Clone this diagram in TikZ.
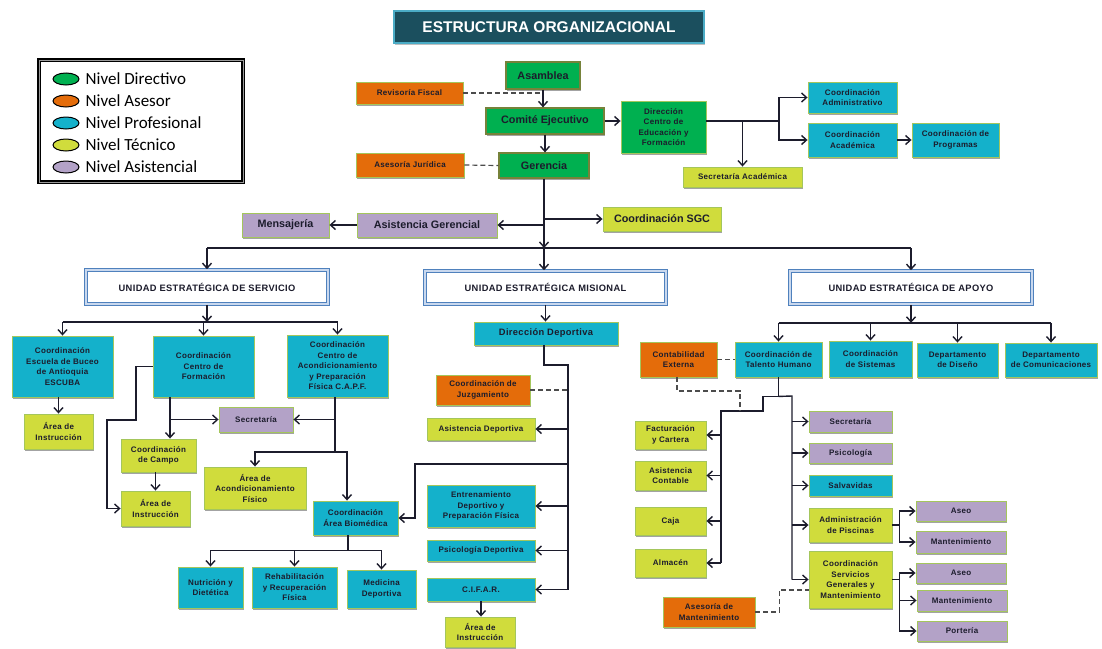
\documentclass[tikz,border=0pt]{standalone}
\usepackage{fontspec}
\setmainfont{Liberation Sans}
\newfontfamily\boxfont[LetterSpace=4]{Liberation Sans}
\newfontfamily\legfont{Carlito}
\usepackage{xcolor}
\usetikzlibrary{arrows.meta,shadows,positioning,shapes.geometric}

\definecolor{dirgreen}{HTML}{00B050}
\definecolor{aseorange}{HTML}{E46C0A}
\definecolor{procyan}{HTML}{14B1CB}
\definecolor{tecyellow}{HTML}{D0DC3C}
\definecolor{asipurple}{HTML}{B3A2C7}
\definecolor{olivebd}{HTML}{76823A}
\definecolor{lightbd}{HTML}{A4C65C}
\definecolor{titlefill}{HTML}{1B4F5E}
\definecolor{titlebd}{HTML}{4BACC6}
\definecolor{uniblue}{HTML}{4F81BD}
\definecolor{unipale}{HTML}{C9D8EE}
\definecolor{inkdark}{HTML}{1C1C2C}

\tikzset{
  box/.style={draw=lightbd, line width=0.9pt, inner sep=1pt, align=center, text=inkdark,
    font=\boxfont\fontsize{8}{10.5}\selectfont\bfseries,
    drop shadow={shadow xshift=0.7pt, shadow yshift=-1.8pt, fill=black!45, opacity=0.8}},
  sz/.style 2 args={minimum width=#1pt, minimum height=#2pt},
  dir/.style={box, fill=dirgreen, draw=olivebd, line width=1.3pt},
  ase/.style={box, fill=aseorange},
  pro/.style={box, fill=procyan},
  tec/.style={box, fill=tecyellow},
  asi/.style={box, fill=asipurple},
  big/.style={font=\fontsize{10.8}{13}\selectfont\bfseries},
  mid/.style={font=\boxfont\fontsize{9.3}{11}\selectfont\bfseries},
  unidad/.style={draw=uniblue, line width=1.6pt, double=unipale, double distance=1.4pt,
    fill=white, align=center, text=inkdark, mid},
  arr/.style={line width=1.4pt, draw=inkdark, -{Straight Barb[length=5pt,width=9pt]}},
  lnk/.style={line width=1.4pt, draw=inkdark},
  dsh/.style={line width=1.2pt, draw=black!70, dash pattern=on 5pt off 3pt},
}

\begin{document}
\begin{tikzpicture}[x=1pt, y=-1pt]
    % Page frame
    \fill[white] (0,0) rectangle (1102,648);
    \useasboundingbox (0,0) rectangle (1102,648);

    % Title
    \node[fill=titlefill, draw=titlebd, line width=1.5pt, text=white, sz={310}{32},
        font=\fontsize{15.5}{18}\selectfont\bfseries,
        drop shadow={shadow xshift=0.8pt, shadow yshift=-2pt, fill=black!50}] (title) at (549,27) {ESTRUCTURA ORGANIZACIONAL};

    % Legend
    \node[draw=black, line width=1.8pt, double=black!40, double distance=1pt, fill=white, sz={204}{122}] (legend) at (141,121) {};
    \foreach \col/\txt [count=\i] in {dirgreen/Nivel Directivo, aseorange/Nivel Asesor, procyan/Nivel Profesional, tecyellow/Nivel Técnico, asipurple/Nivel Asistencial} {
        \node[ellipse, draw, line width=1pt, fill=\col, sz={26}{12}, inner sep=0pt] (legdot\i) at (66,57+22*\i) {};
        \node[right=6pt of legdot\i, inner sep=0pt, font=\legfont\fontsize{17}{20}\selectfont] (legtxt\i) {\txt};
    }

    % Top levels
    \node[dir, big, sz={74}{27}] (asamblea) at (543,75.5) {Asamblea};
    \node[ase, sz={107}{22}] (revisoria) at (409.5,93) {Revisoría Fiscal};
    \node[dir, big, sz={118}{26}] (comite) at (545,121) {Comité Ejecutivo};
    \node[ase, sz={108}{24}] (juridica) at (410,165) {Asesoría Jurídica};
    \node[dir, big, sz={90}{25}] (gerencia) at (544,165.5) {Gerencia};
    \node[dir, draw=lightbd, line width=0.9pt, sz={85}{52}] (dircef) at (663.5,127) {Dirección\\Centro de\\Educación y\\Formación};
    \node[pro, sz={89}{31}] (cadmin) at (852.5,97.5) {Coordinación\\Administrativo};
    \node[pro, sz={89}{34}] (cacad) at (852.5,140) {Coordinación\\Académica};
    \node[pro, sz={87}{34}] (cprog) at (955.5,140) {Coordinación de\\Programas};
    \node[tec, sz={119}{20}] (secacad) at (742.5,177) {Secretaría Académica};
    \node[tec, big, sz={118}{24}] (sgc) at (662,219) {Coordinación SGC};
    \node[asi, big, sz={140}{24}] (asisger) at (427,225) {Asistencia Gerencial};
    \node[asi, big, sz={87}{24}] (mensaj) at (285.5,225) {Mensajería};

    % Strategic units
    \node[unidad, sz={242}{34}] (uesserv) at (207,287) {UNIDAD ESTRATÉGICA DE SERVICIO};
    \node[unidad, sz={241}{33}] (uesmis) at (545.5,287.5) {UNIDAD ESTRATÉGICA MISIONAL};
    \node[unidad, sz={242}{33}] (uesapoyo) at (911,287.5) {UNIDAD ESTRATÉGICA DE APOYO};

    % Top connectors
    \draw[arr] (asamblea.south) -- (asamblea.south |- comite.north);
    \draw[dsh] (revisoria.east) -- (revisoria.east -| asamblea.south);
    \draw[arr] (comite.south) -- (comite.south |- gerencia.north);
    \draw[dsh] (juridica.east) -- (gerencia.west);
    \draw[arr] (comite.east) -- (comite.east -| dircef.west);
    \coordinate (cefsplit) at (779,121);
    \draw[lnk] ([yshift=6pt]dircef.east) -- (cefsplit);
    \draw[arr] (cefsplit) |- (cadmin.west);
    \draw[arr] (cefsplit) |- (cacad.west);
    \draw[arr] (cefsplit -| secacad.north) -- (secacad.north);
    \draw[arr] (cacad.east) -- (cprog.west);
    \coordinate (topbus) at (544,248);
    \draw[arr] (gerencia.south) -- (topbus);
    \draw[arr] (topbus) -- (topbus |- uesmis.north);
    \draw[arr] (gerencia.south |- sgc.west) -- (sgc.west);
    \draw[arr] (gerencia.south |- asisger.east) -- (asisger.east);
    \draw[arr] (asisger.west) -- (mensaj.east);
    \draw[lnk] (topbus -| uesserv.north) -- (topbus -| uesapoyo.north);
    \draw[arr] (topbus -| uesserv.north) -- (uesserv.north);
    \draw[arr] (topbus -| uesapoyo.north) -- (uesapoyo.north);

    % Unidad de servicio
    \node[pro, sz={101}{61}] (escuba) at (62.5,366.5) {Coordinación\\Escuela de Buceo\\de Antioquia\\ESCUBA};
    \node[tec, sz={69}{35}] (ainst1) at (58.5,431.5) {Área de\\Instrucción};
    \node[pro, sz={101}{61}] (cform) at (203.5,366.5) {Coordinación\\Centro de\\Formación};
    \node[pro, sz={101}{62}] (capf) at (337.5,366) {Coordinación\\Centro de\\Acondicionamiento\\y Preparación\\Física C.A.P.F.};
    \node[asi, sz={74}{25}] (secserv) at (256,419.5) {Secretaría};
    \node[tec, sz={75}{33}] (campo) at (158.5,455.5) {Coordinación\\de Campo};
    \node[tec, sz={69}{35}] (ainst2) at (155.5,508.5) {Área de\\Instrucción};
    \node[tec, sz={102}{42}] (acond) at (255,488) {Área de\\Acondicionamiento\\Físico};
    \node[pro, sz={85}{34}] (biomed) at (355.5,518) {Coordinación\\Área Biomédica};
    \node[pro, sz={65}{41}] (nutri) at (210.5,587.5) {Nutrición y\\Dietética};
    \node[pro, sz={85}{41}] (rehab) at (294.5,587.5) {Rehabilitación\\y Recuperación\\Física};
    \node[pro, sz={69}{38}] (medic) at (381.5,589) {Medicina\\Deportiva};

    \coordinate (servbus) at (207,322);
    \draw[arr] (uesserv.south) -- (servbus);
    \draw[lnk] (servbus -| escuba.north) -- (servbus -| capf.north);
    \foreach \n in {escuba, cform, capf}
        \draw[arr] (servbus -| \n.north) -- (\n.north);
    \draw[arr] (ainst1.north |- escuba.south) -- (ainst1.north);
    \draw[arr] (cform.west) -| (136,420) -| (107,508.5) -- (ainst2.west);
    \coordinate (cfdown) at ([xshift=-33.5pt]cform.south);
    \draw[arr] (cfdown) -- (cfdown |- campo.north);
    \draw[arr] (cfdown |- secserv.west) -- (secserv.west);
    \draw[arr] (ainst2.north |- campo.south) -- (ainst2.north);
    \coordinate (capfdown) at ([xshift=-2.5pt]capf.south);
    \coordinate (capfbus) at (335,452);
    \draw[lnk] (capfdown) -- (capfbus);
    \draw[arr] (capfdown |- secserv.east) -- (secserv.east);
    \draw[arr] (capfbus) -| (acond.north);
    \draw[arr] (capfbus) -| ([xshift=-8.5pt]biomed.north);
    \draw[lnk] ([xshift=-7.5pt]biomed.south) -- ++(0,15) coordinate (biobus);
    \foreach \n in {nutri, rehab, medic}
        \draw[arr] (biobus) -| (\n.north);

    % Unidad misional
    \node[pro, mid, sz={144}{23}] (dirdep) at (546,333.5) {Dirección Deportiva};
    \node[ase, sz={94}{30}] (juzga) at (483,390) {Coordinación de\\Juzgamiento};
    \node[tec, sz={108}{22}] (asisdep) at (481,429) {Asistencia Deportiva};
    \node[pro, sz={108}{42}] (entren) at (481,506) {Entrenamiento\\Deportivo y\\Preparación Física};
    \node[pro, sz={108}{21}] (psidep) at (481,550.5) {Psicología Deportiva};
    \node[pro, sz={108}{23}] (cifar) at (481,589.5) {C.I.F.A.R.};
    \node[tec, sz={70}{30}] (ainst3) at (480,632) {Área de\\Instrucción};

    \draw[arr] (uesmis.south) -- (uesmis.south |- dirdep.north);
    \coordinate (misbus) at (568,365);
    \draw[lnk] ([xshift=-2pt]dirdep.south) |- (misbus) -- (misbus |- cifar.east);
    \foreach \n in {asisdep, entren, psidep, cifar}
        \draw[arr] (misbus |- \n.east) -- (\n.east);
    \draw[dsh] (juzga.east) -- (juzga.east -| misbus);
    \draw[arr] (568,464) -- (415,464) |- (biomed.east);
    \draw[arr] (cifar.south) -- (cifar.south |- ainst3.north);

    % Unidad de apoyo
    \node[ase, sz={77}{35}] (contab) at (678.5,359.5) {Contabilidad\\Externa};
    \node[pro, sz={87}{35}] (talento) at (778.5,359.5) {Coordinación de\\Talento Humano};
    \node[pro, sz={83}{36}] (sistemas) at (870.5,359) {Coordinación\\de Sistemas};
    \node[pro, sz={81}{34}] (diseno) at (957.5,360) {Departamento\\de Diseño};
    \node[pro, sz={92}{34}] (comunic) at (1051,360) {Departamento\\de Comunicaciones};
    \node[tec, sz={71}{28}] (factur) at (670.5,435) {Facturación\\y Cartera};
    \node[tec, sz={71}{29}] (asiscont) at (670.5,475.5) {Asistencia\\Contable};
    \node[tec, sz={71}{28}] (caja) at (670.5,521) {Caja};
    \node[tec, sz={71}{28}] (almacen) at (670.5,563) {Almacén};
    \node[asi, sz={83}{21}] (secapo) at (850.5,421.5) {Secretaría};
    \node[asi, sz={83}{20}] (psico) at (850.5,453) {Psicología};
    \node[pro, sz={83}{21}] (salva) at (850.5,485.5) {Salvavidas};
    \node[tec, sz={83}{34}] (piscinas) at (850.5,525) {Administración\\de Piscinas};
    \node[tec, sz={83}{57}] (servgen) at (850.5,579.5) {Coordinación\\Servicios\\Generales y\\Mantenimiento};
    \node[asi, sz={90}{20}] (aseo1) at (961,511) {Aseo};
    \node[asi, sz={90}{22}] (mant1) at (961,542) {Mantenimiento};
    \node[asi, sz={90}{20}] (aseo2) at (961,573) {Aseo};
    \node[asi, sz={90}{21}] (mant2) at (962,600.5) {Mantenimiento};
    \node[asi, sz={90}{20}] (porteria) at (962,631) {Portería};
    \node[ase, sz={92}{30}] (asemant) at (709,612) {Asesoría de\\Mantenimiento};

    \draw[arr] (uesapoyo.south) -- ++(0,18) coordinate (apbus);
    \draw[lnk] (apbus -| talento.north) -- (apbus -| comunic.north);
    \foreach \n in {talento, sistemas, diseno, comunic}
        \draw[arr] (apbus -| \n.north) -- (\n.north);
    \draw[dsh] (contab.east) -- (talento.west);
    \draw[lnk] (talento.south) -- ++(0,19) coordinate (thsplit);
    \coordinate (leftbus) at (721,411);
    \coordinate (rightbus) at (792,396);
    \draw[lnk] (thsplit) -| (763,411) -- (leftbus) -- (leftbus |- almacen.east);
    \draw[lnk] (thsplit) -- (rightbus) -- (rightbus |- servgen.west);
    \foreach \n in {factur, asiscont, caja, almacen}
        \draw[arr] (leftbus |- \n.east) -- (\n.east);
    \foreach \n in {secapo, psico, salva, piscinas, servgen}
        \draw[arr] (rightbus |- \n.west) -- (\n.west);
    \draw[dsh] ([xshift=-1.5pt]contab.south) |- (740,391) -- (740,411);
    \draw[lnk] (piscinas.east) -- ++(7,0) coordinate (piscbus);
    \foreach \n in {aseo1, mant1}
        \draw[arr] (piscbus) |- (\n.west);
    \draw[lnk] (servgen.east) -- ++(7,0) coordinate (servbus2);
    \foreach \n in {aseo2, mant2, porteria}
        \draw[arr] (servbus2) |- (\n.west);
    \draw[dsh] (asemant.east) -- ++(24,0) |- ([yshift=-10.5pt]servgen.west);
\end{tikzpicture}
\end{document}
